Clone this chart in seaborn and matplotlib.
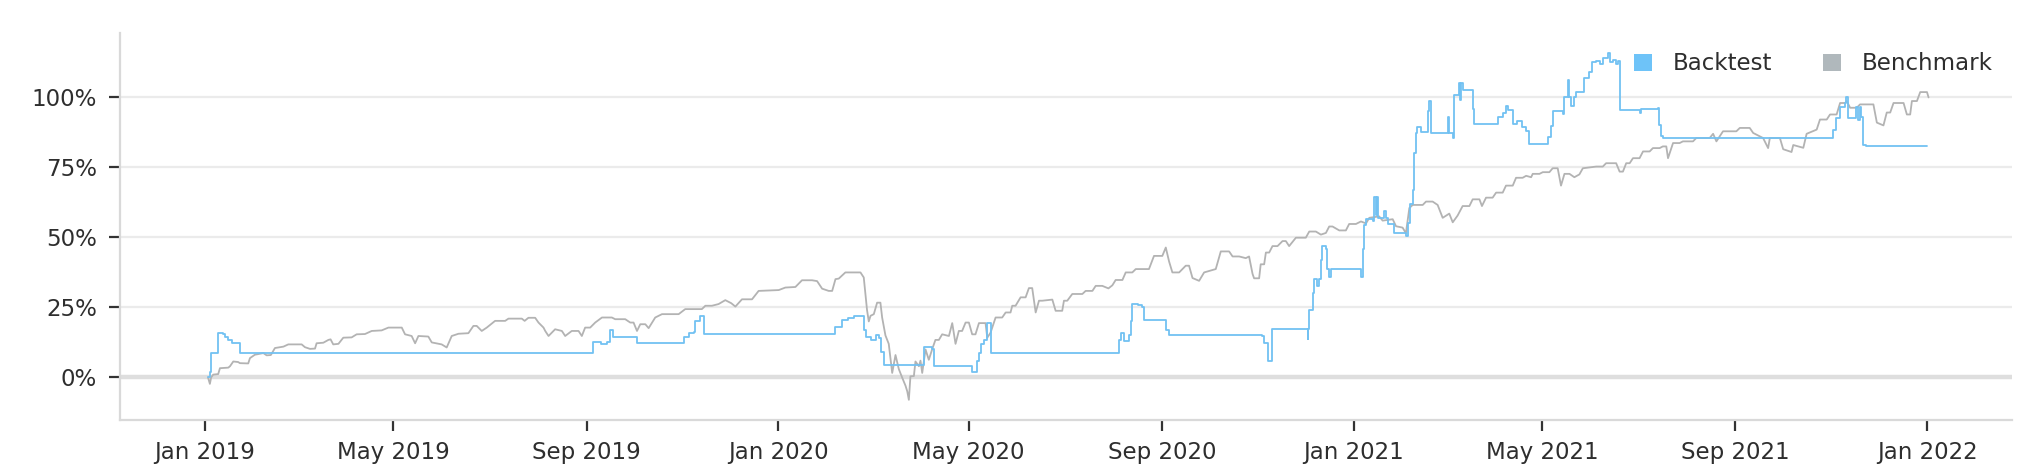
import numpy as np
import pandas as pd
import matplotlib
matplotlib.use("Agg")
import matplotlib.pyplot as plt
import matplotlib.dates as mdates
from matplotlib.patches import Patch
from matplotlib.ticker import FixedLocator, FuncFormatter
import seaborn as sns

# ---------------- data (days since 2019-01-01, cumulative return in %) ----------------
START = "2019-01-01"

backtest_days = [
    2, 3, 4.2, 8.5, 11.7, 13, 14.9, 17, 22.3,
    247, 252, 255.8, 257.9, 260, 275, 304.7, 307.9, 311, 312, 315.3, 317.4,
    401, 405.6, 409, 413, 419.4, 421, 423.6, 426.8, 429, 430, 432,
    457.5, 462.8, 463.9, 488.3, 491.5, 492.5, 494, 496, 497.9, 500,
    581.7, 583, 585, 588.1, 589.2, 590.2, 594, 596.6, 597.7, 611.5, 613.6,
    673, 674.1, 676.3, 679.4, 701.7, 702.3, 702.8, 704.9, 706, 708, 709, 710.2, 711.2,
    713.4, 714.4, 715.5, 716.5, 735.7, 736.7, 737.8, 739, 743.1, 744.2, 745, 746, 746.8,
    750.5, 751.6, 752.7, 756.9, 764.3, 765.4, 767, 768.6, 769.6, 770.7, 771.5, 773.9,
    778.1, 778.8, 780.3, 790.9, 791.9, 794.1, 795.1, 798.3, 799, 799.6, 800.4, 806.8,
    807.9, 822.7, 825.9, 828.0, 829, 832.3, 835, 838, 840.8, 842.9, 854.6, 856.7, 857.7,
    864.1, 865.2, 867.3, 868.4, 869.5, 871.5, 872.6, 877.9, 881.1, 883, 885.4,
    888, 890, 892.8, 894, 896, 898.1, 899.2, 900.3, 913, 914, 924.7, 925.5, 926.8, 927.8,
    1036.1, 1038.2, 1040.3, 1043.5, 1044.6, 1045.5, 1050.9, 1052, 1053, 1054, 1055.2,
    1057.3, 1096,
]
backtest_values = [
    0, 2, 8.7, 15.9, 15.5, 14.5, 13.5, 12.3, 8.6,
    12.5, 12.0, 12.5, 17.0, 14.6, 12.3, 14.6, 16.0, 16.4, 20.0, 22.0, 15.6,
    18.1, 20.5, 21.2, 21.8, 17.0, 14.5, 13.3, 15.0, 14.0, 9.0, 4.5,
    11.0, 10.0, 4.2, 1.8, 6.0, 8.6, 12.0, 13.4, 19.4, 8.6,
    13.4, 15.8, 13.0, 15.0, 20.0, 26.3, 26.0, 25.3, 20.5, 17.0, 15.1,
    14.9, 12.2, 5.7, 17.3, 13.8, 17.3, 24.2, 30.0, 35.1, 32.5, 35.1, 42.0, 47.0,
    45.7, 38.7, 36.0, 38.7, 36.0, 45.7, 54.5, 56.5, 56.0, 64.6, 58.0, 64.6, 57.1,
    59.5, 57.1, 54.8, 51.6, 50.6, 55.0, 62.0, 67.0, 80.0, 87.3, 89.6, 87.6,
    95.0, 98.6, 87.3, 92.9, 87.3, 85.4, 101.0, 105.1, 99.0, 105.0, 102.7, 96.0,
    90.6, 93.0, 94.5, 96.9, 95.5, 90.6, 91.5, 89.5, 88.0, 83.5, 86.0, 89.8, 95.1,
    94.0, 100.3, 106.2, 100.0, 97.0, 100.3, 102.0, 106.9, 109.0, 112.5, 113.0,
    112.0, 114.0, 116.0, 112.5, 113.5, 112.0, 113.0, 95.6, 94.5, 95.8, 96.1, 90.0, 86.1, 85.5,
    88.5, 92.6, 96.5, 98.0, 100.0, 92.6, 96.6, 92.0, 96.6, 93.0, 83.1,
    82.7, 82.7,
]

benchmark_days = [
    2, 3.2, 4, 5.3, 8.5, 9.6, 14.9, 16, 18.1, 21.2, 22.3, 27.6, 28.7, 31.8, 37.2, 39.3, 42,
    44.6, 50, 53.1, 61.6, 63.7, 66.9, 70.1, 71.1, 75.4, 78.6, 80, 81.7, 85, 88.1, 93.4,
    96.6, 101.9, 106.2, 112.5, 116.8, 125.3, 127.4, 131.6, 133.8, 135.9, 142.2, 144.4,
    150.7, 153.9, 157.1, 161.4, 167.7, 170.9, 173, 176.2, 179.4, 184.7, 191.1, 193.2,
    201.7, 203.5, 205.9, 210.2, 212.3, 215.5,
    216.6, 218.7, 222.9, 227.2, 229.3, 233.5, 237.8, 239.9, 242, 245.2, 248.4, 252.7, 259,
    261.1, 267.5, 270.7, 272.8, 275, 277.1, 280.3, 282.4, 286.6, 290.9, 301.5, 305.7, 316.3,
    318.5, 322.7, 326.9, 331.2, 335, 337.6, 341.8, 348.2, 352.4, 365.2, 369.4, 375.8, 380,
    386.4, 389.6, 392.8, 397, 399.2, 401.3, 403.4, 407.6, 417.2, 419.3, 421.4, 422.5, 423.6,
    425.7, 427.8, 429.9, 431, 433.1, 435.2, 437.4,
    439.5, 441.6, 443.7, 445.9, 447, 448, 449, 451.2, 452.2, 454.4, 455.4, 456.5, 458.6,
    460.7, 462.8, 464.9, 467.1, 469.2, 473.5, 475.6, 477.7, 479.8, 481.9, 484.1, 486.2,
    488.3, 490.4, 492.6, 496.8, 497.9, 500, 503.2, 507.4, 509.6, 512.7, 513.8, 515.9, 519.1,
    522.3, 524.4, 526.5, 528.7, 530.8, 532.9, 539.3, 541.4, 545.6, 546.7, 548.8, 552, 558.4,
    560.5, 564.8, 566.9, 571.1, 575, 577.5, 579.6, 583.9, 586, 590.2, 592.4, 600.8, 604,
    609.3, 611.5, 613.6, 615.7, 620, 624.2, 626.3, 628.5, 632.7, 635.9, 643.3, 646.5, 651.8,
    654, 658.2, 662.4,
    664.5, 666.7, 667.7, 670.9, 671.9, 674.1, 675.2, 677.3, 679.4, 682.6, 685.8, 687.9, 690,
    694.3, 700.6, 702.8, 707, 710.2, 713.4, 715.5, 717.6, 721.9, 726.1, 728.2, 732.5, 735.7,
    738.9, 741, 747.3, 749.5, 755.9, 758, 762.2, 764.3, 766.5, 768.6, 775, 777.1, 781.3,
    784.5, 787.7, 791.9, 794.1, 797.2, 800.4, 804.7, 806.8, 811.1, 812.7, 815.3, 819.5,
    821.7, 825.9, 828, 832.3, 834.4, 838.6, 840.8, 844, 845, 849.3, 851.4, 855.6, 857.7,
    860.9, 863, 865.2, 868.4, 871.5, 874.7, 876.9, 885.4,
    889.6, 891.7, 898.1, 900.3, 902.4, 904.5, 906.7, 908.8, 913, 915.2, 919.4, 921.5, 925.8,
    927.8, 930, 931.1, 932.1, 934.3, 938.5, 940.6, 947, 949.1, 957.6, 959.8, 961.9, 966.1,
    974.6, 976.8, 983.1, 985.3, 989.5, 991.6, 994.8, 995.9, 1002.3, 1004.4, 1009.7, 1010.8,
    1017.2, 1019.3, 1025.7, 1027.8, 1032.1, 1034.2, 1038.4, 1040.6, 1043.8, 1044.8, 1047,
    1051.2, 1053.3, 1061.8, 1064, 1068.2, 1070.3, 1072.5, 1074.6, 1081, 1083.1, 1085.2,
    1086.3, 1089.5, 1091.6, 1095.9, 1096.9,
]
benchmark_values = [
    0, -2.3, 0, 1.0, 1.2, 3.3, 3.5, 4.0, 5.7, 5.5, 5.1, 5.0, 6.9, 8.1, 8.7, 7.9, 8.0,
    10.5, 11.0, 11.8, 11.8, 10.8, 10.2, 10.3, 12.2, 12.4, 13.4, 13.6, 11.8, 12.0, 14.2, 14.3,
    15.4, 15.5, 16.6, 16.8, 17.8, 17.8, 15.4, 14.8, 12.2, 14.8, 14.6, 12.5,
    11.8, 10.7, 14.8, 15.6, 15.8, 18.4, 18.4, 16.6, 17.8, 20.2, 20.2, 21.0,
    21.0, 20.2, 21.3, 21.3, 19.6, 17.8,
    16.6, 14.8, 17.2, 16.6, 14.8, 16.6, 16.6, 14.8, 17.8, 17.8, 19.6, 21.4, 21.4,
    20.8, 20.8, 19.6, 19.6, 16.6, 19.0, 19.0, 17.6, 21.4, 22.6, 22.6, 24.4, 24.4,
    25.6, 25.6, 26.2, 27.6, 26.5, 25.3, 27.9, 27.9, 30.9, 31.2, 32.1, 32.3, 34.7,
    34.7, 34.4, 31.7, 30.9, 30.9, 35.1, 35.3, 37.5, 37.5, 35.7, 24.0, 20.0, 22.0,
    22.6, 26.7, 26.7, 21.4, 15.0, 12.0, 1.6,
    8.0, 3.0, 0.0, -3.0, -5.0, -8.0, 0.4, 0.5, 5.7, 4.0, 6.0, 1.6, 10.0,
    6.3, 10.0, 13.4, 13.4, 15.4, 14.8, 19.4, 12.0, 16.6, 16.6, 19.6, 19.6,
    15.4, 15.4, 19.4, 19.4, 14.2, 16.0, 21.4, 21.4, 23.2, 23.2, 25.6, 25.6, 28.6,
    28.6, 31.9, 31.9, 23.2, 27.4, 27.4, 27.8, 23.8, 23.8, 27.4, 27.4, 29.8, 29.8,
    30.9, 30.9, 32.7, 32.7, 31.8, 32.9, 34.8, 34.8, 37.5, 37.5, 38.7, 38.7, 43.4,
    43.4, 46.4, 41.4, 37.5, 37.5, 39.9, 39.9, 35.5, 34.5, 37.5, 38.7, 45.0, 45.0,
    43.2, 43.2, 42.6,
    43.2, 37.0, 35.4, 35.4, 40.4, 40.4, 44.6, 44.6, 46.9, 46.9, 48.7, 48.7, 46.9,
    49.9, 49.9, 52.1, 52.1, 51.0, 51.6, 53.9, 53.9, 52.5, 52.5, 54.8, 54.8, 55.7,
    55.0, 57.0, 57.5, 56.0, 56.5, 54.0, 53.5, 51.5, 60.5, 61.6, 61.6, 62.8, 62.8,
    61.6, 57.0, 58.5, 55.4, 57.8, 61.2, 61.2, 63.6, 63.6, 61.2, 64.2, 64.2,
    66.0, 66.0, 68.5, 68.5, 71.3, 71.3, 72.0, 71.5, 72.7, 72.7, 73.3, 73.3, 74.7,
    74.7, 68.5, 72.7, 72.7, 71.5, 72.5, 74.7, 75.3,
    75.3, 76.5, 76.5, 73.5, 73.5, 76.5, 76.5, 78.3, 78.3, 80.7, 80.7, 81.9, 81.9,
    82.5, 82.5, 78.3, 80.0, 83.7, 83.7, 84.3, 84.3, 85.5, 85.5, 87.0, 84.3, 87.9,
    87.9, 89.1, 89.1, 87.3, 86.1, 85.5, 81.9, 85.5, 85.5, 81.5, 80.5, 83.0,
    82.0, 87.0, 88.5, 92.1, 92.1, 93.9, 93.9, 98.0, 98.0, 98.7, 96.3,
    96.3, 97.5, 97.5, 91.0, 90.0, 94.6, 94.6, 98.0, 98.0, 93.9, 93.9,
    98.7, 98.7, 101.9, 101.9, 100.0,
]

series_names = ["Backtest", "Benchmark"]
y_ticks = [0, 25, 50, 75, 100]

# ---------------- styling ----------------
line_colors = {"Backtest": "#72c1f2", "Benchmark": "#b3b3b3"}
patch_colors = {"Backtest": "#6ec3f8", "Benchmark": "#b0b8bc"}
text_color = "#2e2e2e"
FS = 16.5

sns.set_theme(style="white")
plt.rcParams["font.family"] = ["DejaVu Sans"]

fig = plt.figure(figsize=(20.26, 4.71), dpi=100)
ax = fig.add_axes([120 / 2026, 1 - 420 / 471, (2012 - 120) / 2026, (420 - 33) / 471])

base = pd.Timestamp(START)
bt_dates = base + pd.to_timedelta(np.array(backtest_days), unit="D")
bm_dates = base + pd.to_timedelta(np.array(benchmark_days), unit="D")

ax.yaxis.grid(True, color="#ebebeb", lw=1.6)
ax.xaxis.grid(False)
ax.set_axisbelow(True)
ax.axhline(0, color="#dedede", lw=3.2, zorder=1)

sns.lineplot(x=bm_dates, y=benchmark_values, ax=ax, color=line_colors["Benchmark"],
             lw=1.3, errorbar=None, legend=False, zorder=2)
sns.lineplot(x=bt_dates, y=backtest_values, ax=ax, color=line_colors["Backtest"],
             lw=1.3, errorbar=None, legend=False, drawstyle="steps-post", zorder=3)

# axes limits (layout)
ax.set_xlim(base + pd.Timedelta(days=-54), base + pd.Timedelta(days=1150))
ax.set_ylim(-15.2, 123)

ax.xaxis.set_major_locator(mdates.MonthLocator(bymonth=[1, 5, 9]))
ax.xaxis.set_major_formatter(mdates.DateFormatter("%b %Y"))
ax.yaxis.set_major_locator(FixedLocator(y_ticks))
ax.yaxis.set_major_formatter(FuncFormatter(lambda v, p: f"{v:.0f}%"))

ax.tick_params(axis="both", which="major", bottom=True, left=True, length=8, width=1.6,
               color="#333333", labelsize=FS, labelcolor=text_color)
ax.tick_params(axis="y", pad=8.5)
ax.tick_params(axis="x", pad=7)
ax.set_xlabel("")
ax.set_ylabel("")

for s in ["top", "right"]:
    ax.spines[s].set_visible(False)
for s in ["left", "bottom"]:
    ax.spines[s].set_color("#d9d9d9")
    ax.spines[s].set_linewidth(1.6)

handles = [Patch(facecolor=patch_colors[n], edgecolor="none", label=n) for n in series_names]
leg = ax.legend(handles=handles, loc="upper right", ncol=2, frameon=False, fontsize=FS,
                handlelength=0.8, handleheight=0.8, handletextpad=0.9, columnspacing=2.2,
                borderaxespad=0.45)
for t in leg.get_texts():
    t.set_color(text_color)

fig.savefig("out.png", dpi=100, facecolor="white")
